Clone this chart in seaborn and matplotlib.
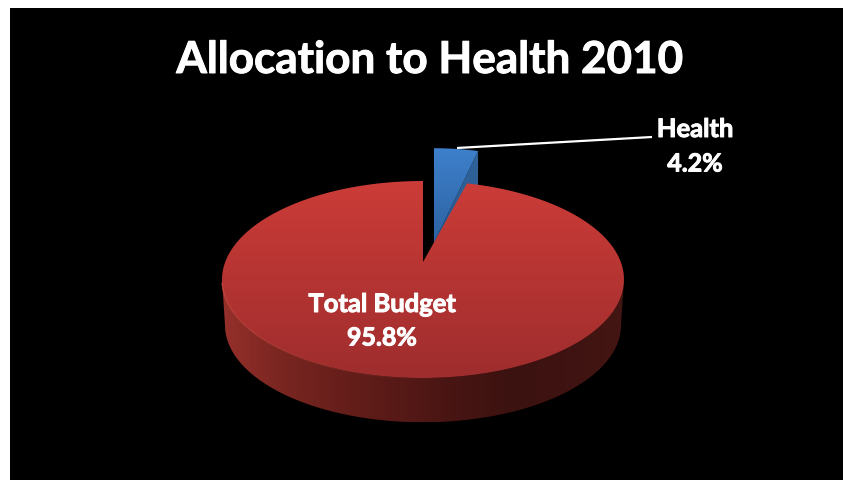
import numpy as np
import matplotlib
matplotlib.use("Agg")
import matplotlib.pyplot as plt
import matplotlib.patheffects as pe
from matplotlib.collections import LineCollection
from matplotlib.colors import to_hex
from matplotlib.patches import Polygon, Rectangle
import seaborn as sns

# Budget shares, in percent
categories = ["Total Budget", "Health"]
shares = [95.8, 4.2]
title_text = "Allocation to Health 2010"


def rgb(r, g, b):
    return to_hex((r / 255, g / 255, b / 255))


sns.set_theme(style="white")
plt.rcParams["font.family"] = ["Lato", "DejaVu Sans"]

W, H = 843, 480
fig = plt.figure(figsize=(W / 100, H / 100), dpi=100, facecolor="white")
ax = fig.add_axes([0, 0, 1, 1])
ax.set_xlim(0, W)
ax.set_ylim(H, 0)
ax.axis("off")
ax.add_patch(Rectangle((10, 8), W - 10, H - 8, fc="black", ec="none", zorder=0))

# Tilted-disc projection: far side foreshortened, near side enlarged
CX, CY = 423.0, 262.0
RX, RY, PERSP = 197.8, 95.4, 0.1776
DROP = 46.0
BOTTOM_SCALE = 0.985


def project(deg, radius=1.0, cx=CX, cy=CY, sx=1.0, sy=1.0):
    t = np.radians(deg)
    u, v = radius * np.cos(t), radius * np.sin(t)
    w = 1 + PERSP * v
    return np.column_stack([cx + sx * RX * u / w, cy - sy * RY * v / w])


def wedge(start, end, **kw):
    angles = np.linspace(start, end, 400)
    tip = np.array([[kw.get("cx", CX), kw.get("cy", CY)]])
    return np.vstack([tip, project(angles, **kw)])


def gradient(colors, poly, horizontal=False, zorder=1):
    """Fill a polygon with a palette ramp across its bounding box."""
    ramp = np.array(sns.blend_palette(colors, 256))
    ramp = ramp[None, :, :] if horizontal else ramp[:, None, :]
    x0, y0 = poly.min(axis=0)
    x1, y1 = poly.max(axis=0)
    img = ax.imshow(ramp, extent=(x0, x1, y1, y0), aspect="auto", zorder=zorder,
                    interpolation="bilinear")
    patch = Polygon(poly, closed=True, transform=ax.transData, fc="none", ec="none")
    ax.add_patch(patch)
    img.set_clip_path(patch)
    ax.set_xlim(0, W)
    ax.set_ylim(H, 0)


# Slice angles come straight from the shares; both slices meet at 12 o'clock
health_sweep = shares[1] / sum(shares) * 360
budget_sweep = shares[0] / sum(shares) * 360
health_start = 90 - health_sweep
budget_end = 90 + budget_sweep

# Raised Health slice: cut face first, then its top, both partly behind the disc
TIP_X, TIP_Y, LIFT = 434.0, 243.0, 1.17
health_kw = dict(cx=TIP_X, cy=TIP_Y, sy=LIFT)
health_top = wedge(health_start, 90, **health_kw)
rim = project(np.array([health_start]), **health_kw)[0]
cut_face = np.array([rim, [TIP_X, TIP_Y], [TIP_X, TIP_Y + DROP], rim + [0, DROP]])
gradient([rgb(48, 100, 156), rgb(38, 82, 132)], cut_face, zorder=2)
gradient([rgb(62, 128, 204), rgb(44, 98, 160)], health_top, zorder=3)

# Side wall of the Total Budget disc
edge = np.degrees(np.arcsin(PERSP))
front = np.linspace(180 + edge, 360 - edge, 300)
upper = project(front)
lower = project(front[::-1], cx=CX, cy=CY + DROP, sx=BOTTOM_SCALE, sy=BOTTOM_SCALE)
wall = np.vstack([upper, lower])
gradient([rgb(150, 48, 43), rgb(122, 38, 33), rgb(104, 31, 27), rgb(88, 26, 23),
          rgb(72, 21, 19), rgb(60, 18, 16), rgb(62, 19, 17), rgb(68, 22, 19)],
         wall, horizontal=True, zorder=4)

# Top face of the Total Budget disc with a highlight fading along the front edge
budget_top = wedge(90, budget_end)
gradient([rgb(204, 60, 56), rgb(158, 45, 45)], budget_top, zorder=5)
rim_line = project(np.linspace(192, 275, 120))
segments = np.stack([rim_line[:-1], rim_line[1:]], axis=1)
fade = np.array([[0.80, 0.30, 0.26, a] for a in np.linspace(0.9, 0.0, len(segments))])
ax.add_collection(LineCollection(segments, colors=fade, linewidths=1.0, zorder=6))

# Leader line and labels
ax.plot([457, 652], [148, 137], color="white", lw=1.6, zorder=7,
        solid_capstyle="butt")

heavier = [pe.withStroke(linewidth=0.7, foreground="white")]
text_kw = dict(color="white", fontweight="bold", ha="center", va="center", zorder=8,
               path_effects=heavier)
ax.text(429.5, 60, title_text, fontsize=31.7, **text_kw)
ax.text(382, 304, categories[0], fontsize=18.4, **text_kw)
ax.text(382, 338, f"{shares[0]}%", fontsize=18, **text_kw)
ax.text(695, 129, categories[1], fontsize=18.4, **text_kw)
ax.text(695, 164, f"{shares[1]}%", fontsize=18, **text_kw)

fig.savefig("out.png", dpi=100, facecolor="white")
